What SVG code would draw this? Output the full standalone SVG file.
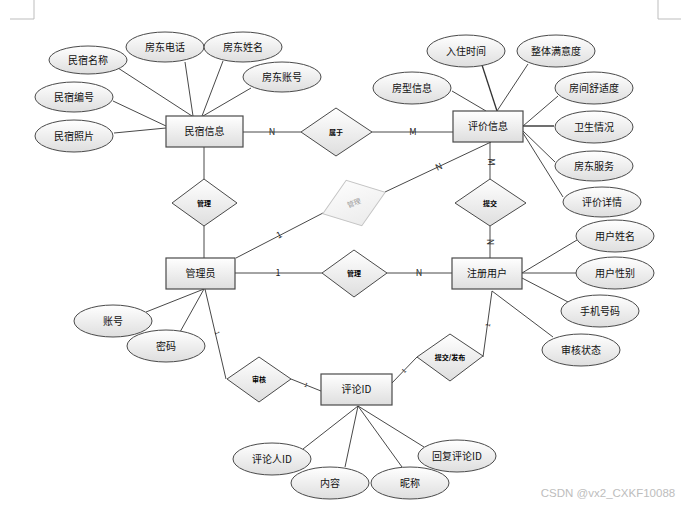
<svg xmlns="http://www.w3.org/2000/svg" width="687" height="507" viewBox="0 0 687 507">
<defs>
<linearGradient id="g" x1="0" y1="0" x2="0" y2="1">
<stop offset="0" stop-color="#ffffff"/><stop offset="1" stop-color="#dedede"/>
</linearGradient>
<linearGradient id="gf" x1="0" y1="0" x2="0" y2="1">
<stop offset="0" stop-color="#fcfcfc"/><stop offset="1" stop-color="#ececec"/>
</linearGradient>
</defs>
<style>
text{font-family:"Noto Sans CJK SC","Microsoft YaHei",sans-serif;text-anchor:middle;fill:#111}
.ent rect{fill:url(#g);stroke:#4a4a4a;stroke-width:1.2}
.att ellipse{fill:url(#g);stroke:#4a4a4a;stroke-width:1}
.rel polygon{fill:url(#g);stroke:#4a4a4a;stroke-width:1}
.fade polygon{fill:url(#gf);stroke:#c4c4c4;stroke-width:1}
.fade text{fill:#999}
.t10{font-size:10px}
.t7{font-size:7px;font-weight:bold;fill:#000}
.card{font-size:9px;fill:#222}
.tiny{font-size:6px}
#conn line,#conn polyline{stroke:#333;stroke-width:0.9;fill:none}
.frame{stroke:#bdbdbd;stroke-width:1;fill:none}
</style>
<rect width="687" height="507" fill="#ffffff"/>
<polyline class="frame" points="10,19 34,19 34,0"/>
<polyline class="frame" points="658,0 658,19 681,19"/>

<g id="conn">
<line x1="243" y1="132" x2="301" y2="132"/>
<line x1="372" y1="132" x2="453" y2="132"/>
<line x1="204" y1="147" x2="204" y2="179"/>
<line x1="204" y1="226" x2="204" y2="258"/>
<line x1="236" y1="258" x2="323" y2="213"/>
<line x1="385" y1="192" x2="491" y2="142"/>
<line x1="490" y1="142" x2="490" y2="179"/>
<line x1="490" y1="226" x2="490" y2="258"/>
<line x1="235" y1="273" x2="322" y2="273"/>
<line x1="387" y1="273" x2="452" y2="273"/>
<line x1="205" y1="289" x2="226" y2="379"/>
<line x1="291" y1="379" x2="321" y2="391"/>
<line x1="391" y1="384" x2="417" y2="357"/>
<line x1="483" y1="357" x2="492" y2="291"/>
<line x1="118" y1="68" x2="192" y2="116"/>
<line x1="185" y1="62" x2="193" y2="116"/>
<line x1="223" y1="61" x2="202" y2="116"/>
<line x1="251" y1="88" x2="203" y2="116"/>
<line x1="113" y1="101" x2="166" y2="126"/>
<line x1="114" y1="133" x2="166" y2="128"/>
<line x1="482" y1="65" x2="497" y2="111" style="stroke-width:1.3"/>
<line x1="528" y1="64" x2="497" y2="111"/>
<line x1="452" y1="91" x2="486" y2="111"/>
<line x1="558" y1="96" x2="523" y2="126"/>
<line x1="523" y1="126" x2="554" y2="126" style="stroke-width:1.4"/>
<line x1="523" y1="131" x2="555" y2="162"/>
<line x1="523" y1="133" x2="563" y2="197"/>
<line x1="577" y1="240" x2="522" y2="273"/>
<line x1="522" y1="273" x2="577" y2="273"/>
<line x1="522" y1="278" x2="568" y2="302"/>
<line x1="492" y1="291" x2="553" y2="337"/>
<line x1="146" y1="312" x2="204" y2="289"/>
<line x1="180" y1="332" x2="204" y2="289"/>
<line x1="358" y1="406" x2="303" y2="449"/>
<line x1="358" y1="406" x2="345" y2="467"/>
<line x1="358" y1="406" x2="402" y2="467"/>
<line x1="358" y1="406" x2="424" y2="447"/>

<g id="labels">
<text class="card" x="272" y="135">N</text>
<text class="card" x="413" y="135">M</text>
<text class="card" transform="translate(279,235) rotate(-27)" y="3">1</text>
<text class="card" transform="translate(439,167) rotate(-25)" y="3">N</text>
<text class="card" transform="translate(491,162) rotate(90)" y="3">M</text>
<text class="card" transform="translate(490,242) rotate(90)" y="3">N</text>
<text class="card" x="278" y="276">1</text>
<text class="card" x="419" y="276">N</text>
<text class="tiny" transform="translate(217,333) rotate(77)" y="2">1</text>
<text class="tiny" transform="translate(306,385) rotate(22)" y="2">1</text>
<text class="tiny" transform="translate(404,371) rotate(-46)" y="2">1</text>
<text class="tiny" transform="translate(488,325) rotate(-82)" y="2">1</text>
</g>
</g>

<g id="e-minsu" class="ent"><rect x="166" y="116" width="77" height="31"/><text class="t10" x="204.5" y="135">民宿信息</text></g>
<g id="e-pingjia" class="ent"><rect x="453" y="111" width="70" height="31"/><text class="t10" x="488" y="130">评价信息</text></g>
<g id="e-admin" class="ent"><rect x="166" y="258" width="69" height="31"/><text class="t10" x="200.5" y="277">管理员</text></g>
<g id="e-user" class="ent"><rect x="452" y="258" width="70" height="31"/><text class="t10" x="487" y="277">注册用户</text></g>
<g id="e-comment" class="ent"><rect x="321" y="374" width="71" height="31"/><text class="t10" x="356.5" y="393">评论ID</text></g>

<g id="r-shuyu" class="rel"><polygon points="301,132 336,108 372,132 336,156"/><text class="t7" x="336" y="134.5">属于</text></g>
<g id="r-guanli1" class="rel"><polygon points="172,203 204,179 237,203 204,226"/><text class="t7" x="204" y="205.5">管理</text></g>
<g id="r-guanli2" class="fade"><polygon transform="translate(354,203) rotate(-19)" points="-33,0 0,-24 33,0 0,24"/><text class="t7" style="fill:#999;font-weight:normal" transform="translate(354,203) rotate(-19)" y="2.5">管理</text></g>
<g id="r-tijiao" class="rel"><polygon points="455,203 490,179 526,203 490,226"/><text class="t7" x="490" y="205.5">提交</text></g>
<g id="r-guanli3" class="rel"><polygon points="322,273 354,250 387,273 354,297"/><text class="t7" x="354" y="275.5">管理</text></g>
<g id="r-shenhe" class="rel"><polygon points="227,379 259,357 291,379 259,402"/><text class="t7" x="259" y="381.5">审核</text></g>
<g id="r-fabu" class="rel"><polygon points="417,357 450,334 483,356 450,381"/><text class="t7" x="450" y="359.5">提交/发布</text></g>

<g id="a-mingcheng" class="att"><ellipse cx="88" cy="60" rx="39" ry="14"/><text class="t10" x="88" y="63.5">民宿名称</text></g>
<g id="a-dianhua" class="att"><ellipse cx="165" cy="47" rx="39" ry="15"/><text class="t10" x="165" y="50.5">房东电话</text></g>
<g id="a-xingming" class="att"><ellipse cx="243" cy="47" rx="39" ry="15"/><text class="t10" x="243" y="50.5">房东姓名</text></g>
<g id="a-zhanghao" class="att"><ellipse cx="282" cy="77" rx="39" ry="15"/><text class="t10" x="282" y="80.5">房东账号</text></g>
<g id="a-bianhao" class="att"><ellipse cx="74" cy="97" rx="39" ry="15"/><text class="t10" x="74" y="100.5">民宿编号</text></g>
<g id="a-zhaopian" class="att"><ellipse cx="74" cy="136" rx="39" ry="16"/><text class="t10" x="74" y="139.5">民宿照片</text></g>

<g id="a-ruzhu" class="att"><ellipse cx="466" cy="51" rx="39" ry="16"/><text class="t10" x="466" y="54.5">入住时间</text></g>
<g id="a-manyi" class="att"><ellipse cx="556" cy="51" rx="39" ry="16"/><text class="t10" x="556" y="54.5">整体满意度</text></g>
<g id="a-fangxing" class="att"><ellipse cx="412" cy="88" rx="39" ry="16"/><text class="t10" x="412" y="91.5">房型信息</text></g>
<g id="a-shushi" class="att"><ellipse cx="594" cy="88" rx="39" ry="16"/><text class="t10" x="594" y="91.5">房间舒适度</text></g>
<g id="a-weisheng" class="att"><ellipse cx="594" cy="127" rx="39" ry="16"/><text class="t10" x="594" y="130.5">卫生情况</text></g>
<g id="a-fuwu" class="att"><ellipse cx="594" cy="166" rx="39" ry="15"/><text class="t10" x="594" y="169.5">房东服务</text></g>
<g id="a-xiangqing" class="att"><ellipse cx="602" cy="202" rx="39" ry="15"/><text class="t10" x="602" y="205.5">评价详情</text></g>

<g id="a-yhxm" class="att"><ellipse cx="615" cy="236" rx="39" ry="16"/><text class="t10" x="615" y="239.5">用户姓名</text></g>
<g id="a-yhxb" class="att"><ellipse cx="615" cy="273" rx="39" ry="16"/><text class="t10" x="615" y="276.5">用户性别</text></g>
<g id="a-sjhm" class="att"><ellipse cx="600" cy="311" rx="39" ry="16"/><text class="t10" x="600" y="314.5">手机号码</text></g>
<g id="a-shzt" class="att"><ellipse cx="581" cy="350" rx="39" ry="16"/><text class="t10" x="581" y="353.5">审核状态</text></g>

<g id="a-zh" class="att"><ellipse cx="113" cy="321" rx="39" ry="16"/><text class="t10" x="113" y="324.5">账号</text></g>
<g id="a-mm" class="att"><ellipse cx="166" cy="346" rx="39" ry="16"/><text class="t10" x="166" y="349.5">密码</text></g>

<g id="a-plr" class="att"><ellipse cx="272" cy="459" rx="39" ry="16"/><text class="t10" x="272" y="462.5">评论人ID</text></g>
<g id="a-nr" class="att"><ellipse cx="330" cy="483" rx="39" ry="16"/><text class="t10" x="330" y="486.5">内容</text></g>
<g id="a-nc" class="att"><ellipse cx="410" cy="483" rx="39" ry="16"/><text class="t10" x="410" y="486.5">昵称</text></g>
<g id="a-hf" class="att"><ellipse cx="457" cy="456" rx="39" ry="16"/><text class="t10" x="457" y="459.5">回复评论ID</text></g>

<text x="608" y="497" style="font-size:11.5px;fill:#bdbdbd;font-family:'Liberation Sans',sans-serif">CSDN @vx2_CXKF10088</text>
</svg>
